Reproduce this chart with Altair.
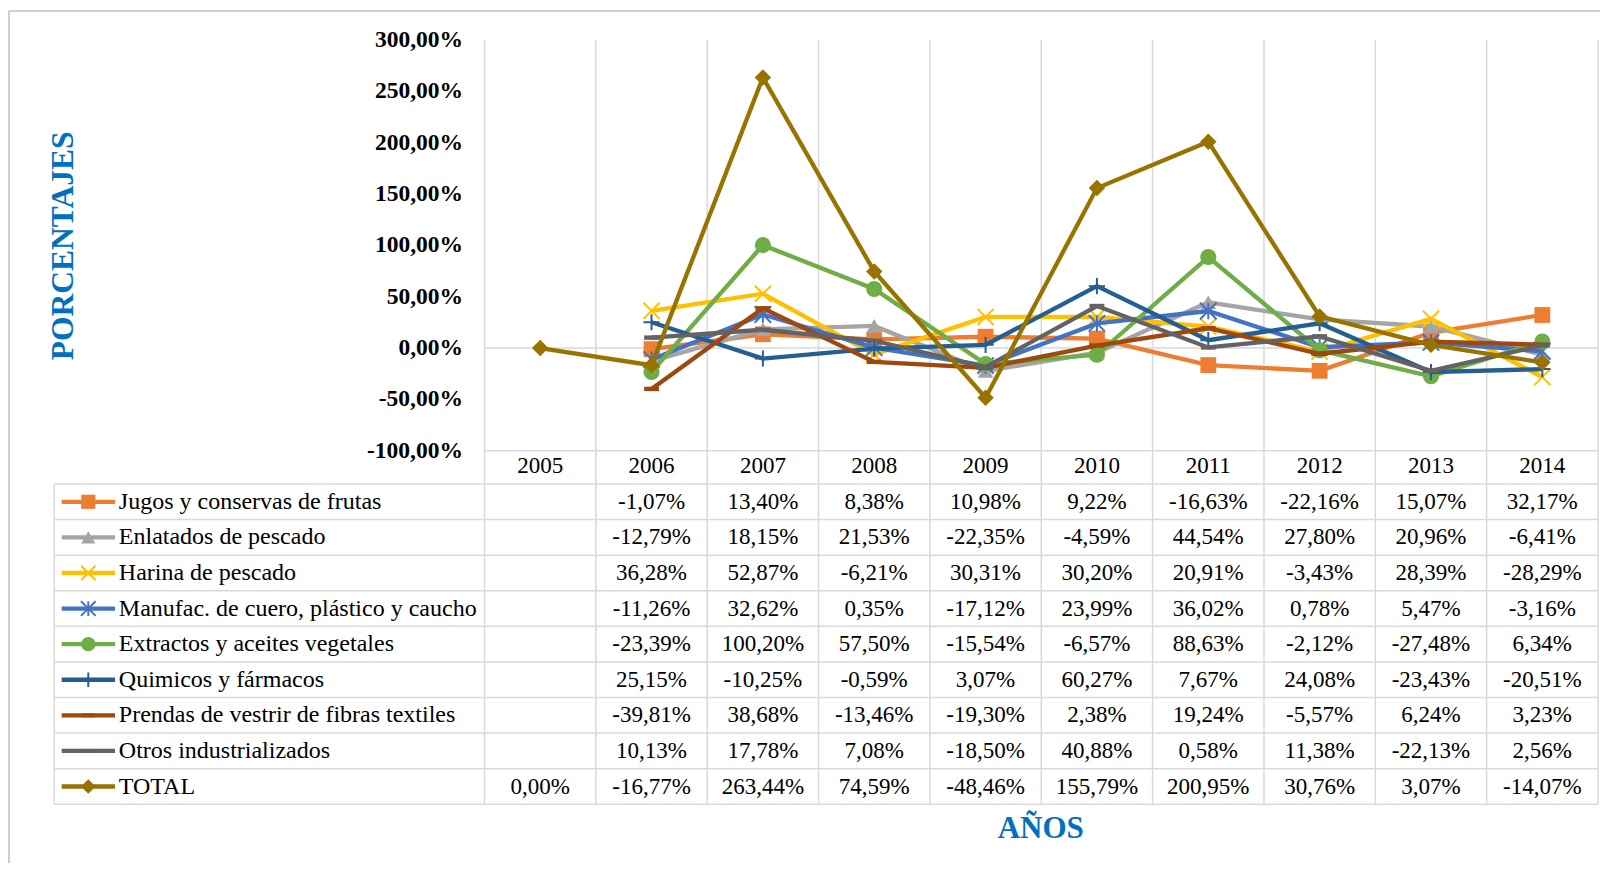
import altair as alt
import pandas as pd

years = [2005, 2006, 2007, 2008, 2009, 2010, 2011, 2012, 2013, 2014]
series_names = [
    "Jugos y conservas de frutas",
    "Enlatados de pescado",
    "Harina de pescado",
    "Manufac. de cuero, plástico y caucho",
    "Extractos y aceites vegetales",
    "Quimicos y fármacos",
    "Prendas de vestrir de fibras textiles",
    "Otros industrializados",
    "TOTAL",
]
jugos = [None, -1.07, 13.40, 8.38, 10.98, 9.22, -16.63, -22.16, 15.07, 32.17]
enlatados = [None, -12.79, 18.15, 21.53, -22.35, -4.59, 44.54, 27.80, 20.96, -6.41]
harina = [None, 36.28, 52.87, -6.21, 30.31, 30.20, 20.91, -3.43, 28.39, -28.29]
manufac = [None, -11.26, 32.62, 0.35, -17.12, 23.99, 36.02, 0.78, 5.47, -3.16]
extractos = [None, -23.39, 100.20, 57.50, -15.54, -6.57, 88.63, -2.12, -27.48, 6.34]
quimicos = [None, 25.15, -10.25, -0.59, 3.07, 60.27, 7.67, 24.08, -23.43, -20.51]
prendas = [None, -39.81, 38.68, -13.46, -19.30, 2.38, 19.24, -5.57, 6.24, 3.23]
otros = [None, 10.13, 17.78, 7.08, -18.50, 40.88, 0.58, 11.38, -22.13, 2.56]
total = [0.00, -16.77, 263.44, 74.59, -48.46, 155.79, 200.95, 30.76, 3.07, -14.07]
y_ticks = [-100, -50, 0, 50, 100, 150, 200, 250, 300]

all_series = [jugos, enlatados, harina, manufac, extractos, quimicos, prendas, otros, total]
colors = ["#ED7D31", "#A5A5A5", "#FFC000", "#4472C4", "#70AD47",
          "#255E91", "#9E480E", "#636363", "#997300"]
X_PATH = "M-1,-1L1,1M1,-1L-1,1"
STAR_PATH = "M-1,-1L1,1M1,-1L-1,1M0,-1L0,1"
PLUS_PATH = "M-1,0L1,0M0,-1L0,1"
DASH_PATH = "M-1,-0.3L1,-0.3L1,0.3L-1,0.3Z"
shapes = ["square", "triangle-up", X_PATH, STAR_PATH, "circle",
          PLUS_PATH, DASH_PATH, DASH_PATH, "diamond"]
filled = [True, True, False, False, True, False, True, True, True]
sizes = [250, 250, 260, 270, 260, 260, 220, 220, 270]

FONT = "Liberation Serif"
GRID = "#D9D9D9"
BLUE = "#0070C0"
LW = 4.3

def fmt(v):
    return f"{v:.2f}".replace(".", ",") + "%"

rows = []
for i, (name, vals) in enumerate(zip(series_names, all_series)):
    for y, v in zip(years, vals):
        if v is None:
            continue
        rows.append({"series": name, "row": i, "year": y, "value": v, "label": fmt(v)})
df = pd.DataFrame(rows)

xs = alt.Scale(domain=[2004.5, 2014.5], range=[476.5, 1590], nice=False, zero=False)
ys = alt.Scale(domain=[-100, 300], range=[442.7, 32], nice=False, zero=False)
rs = alt.Scale(domain=[-0.5, 8.5], range=[476, 796.3], nice=False, zero=False)

one = pd.DataFrame({"a": [0]})
layers = []

# outer border (top and left)
layers.append(alt.Chart(one).mark_rule(color="#BFBFBF", strokeWidth=1.5).encode(
    x=alt.value(1), x2=alt.value(1592), y=alt.value(3)))
layers.append(alt.Chart(one).mark_rule(color="#BFBFBF", strokeWidth=1.5).encode(
    x=alt.value(1), y=alt.value(3), y2=alt.value(855)))

# vertical column lines
bounds = pd.DataFrame({"b": [y - 0.5 for y in years] + [years[-1] + 0.5]})
layers.append(alt.Chart(bounds).mark_rule(color=GRID, strokeWidth=1.5).encode(
    x=alt.X("b:Q", scale=xs, axis=None), y=alt.value(32), y2=alt.value(796.3)))

# horizontal zero line and -100 line
hl = pd.DataFrame({"v": [0, -100]})
layers.append(alt.Chart(hl).mark_rule(color=GRID, strokeWidth=1.5).encode(
    y=alt.Y("v:Q", scale=ys, axis=None), x=alt.value(476.5), x2=alt.value(1590)))

# table row lines
rl = pd.DataFrame({"r": [k - 0.5 for k in range(len(series_names) + 1)]})
layers.append(alt.Chart(rl).mark_rule(color=GRID, strokeWidth=1.5).encode(
    y=alt.Y("r:Q", scale=rs, axis=None), x=alt.value(46.3), x2=alt.value(1590)))
layers.append(alt.Chart(one).mark_rule(color=GRID, strokeWidth=1.5).encode(
    x=alt.value(46.3), y=alt.value(476), y2=alt.value(796.3)))

# y tick labels
tk = pd.DataFrame({"t": y_ticks, "lab": [fmt(t) for t in y_ticks]})
layers.append(alt.Chart(tk).mark_text(font=FONT, fontSize=23.5, fontWeight="bold",
                                      align="right", baseline="middle", color="#000000").encode(
    y=alt.Y("t:Q", scale=ys, axis=None), x=alt.value(455), text="lab:N"))

# series lines and markers
for i, name in enumerate(series_names):
    d = df[df.series == name]
    enc = dict(x=alt.X("year:Q", scale=xs, axis=None),
               y=alt.Y("value:Q", scale=ys, axis=None))
    layers.append(alt.Chart(d).mark_line(color=colors[i], strokeWidth=LW).encode(**enc))
    layers.append(alt.Chart(d).mark_point(shape=shapes[i], filled=filled[i], color=colors[i],
                                          size=sizes[i], opacity=1,
                                          strokeWidth=2 if not filled[i] else 0).encode(**enc))

# table header (years)
hdr = pd.DataFrame({"year": years, "row": [-1] * len(years)})
layers.append(alt.Chart(hdr).mark_text(font=FONT, fontSize=23, align="center",
                                       baseline="middle", color="#000000").encode(
    x=alt.X("year:Q", scale=xs, axis=None), y=alt.Y("row:Q", scale=rs, axis=None),
    text="year:N"))

# table series labels and legend samples
lab = pd.DataFrame({"series": series_names, "row": list(range(len(series_names)))})
layers.append(alt.Chart(lab).mark_text(font=FONT, fontSize=24, align="left",
                                       baseline="middle", color="#000000").encode(
    x=alt.value(110.8), y=alt.Y("row:Q", scale=rs, axis=None), text="series:N"))
for i, name in enumerate(series_names):
    r = pd.DataFrame({"row": [i]})
    layers.append(alt.Chart(r).mark_rule(color=colors[i], strokeWidth=LW).encode(
        x=alt.value(53.7), x2=alt.value(107), y=alt.Y("row:Q", scale=rs, axis=None)))
    layers.append(alt.Chart(r).mark_point(shape=shapes[i], filled=filled[i], color=colors[i],
                                          size=sizes[i] * 0.8, opacity=1,
                                          strokeWidth=2 if not filled[i] else 0).encode(
        x=alt.value(80.3), y=alt.Y("row:Q", scale=rs, axis=None)))

# table values
layers.append(alt.Chart(df).mark_text(font=FONT, fontSize=23, align="center",
                                      baseline="middle", color="#000000").encode(
    x=alt.X("year:Q", scale=xs, axis=None), y=alt.Y("row:Q", scale=rs, axis=None),
    text="label:N"))

# axis titles
layers.append(alt.Chart(one).mark_text(font=FONT, fontSize=31, fontWeight="bold", color=BLUE,
                                       align="center", baseline="alphabetic", text="AÑOS").encode(
    x=alt.value(1032.7), y=alt.value(830)))
layers.append(alt.Chart(one).mark_text(font=FONT, fontSize=31.5, fontWeight="bold", color=BLUE,
                                       align="center", baseline="alphabetic", angle=270,
                                       text="PORCENTAJES").encode(
    x=alt.value(65.3), y=alt.value(237.8)))

chart = alt.layer(*layers).properties(
    width=1592, height=855,
    autosize=alt.AutoSizeParams(type="none"),
    padding=0,
    background="white",
).resolve_scale(y="independent").configure_view(stroke=None)

chart.save("out.html", embed_options={"renderer": "svg", "actions": False})
